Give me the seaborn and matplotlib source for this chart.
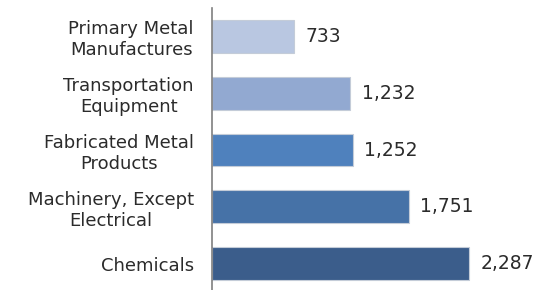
import pandas as pd
import matplotlib.pyplot as plt
import seaborn as sns

categories = ['Primary Metal\nManufactures', 'Transportation\nEquipment',
              'Fabricated Metal\nProducts', 'Machinery, Except\nElectrical', 'Chemicals']
values = [733, 1232, 1252, 1751, 2287]
colors = ['#b9c7e1', '#92a9d1', '#4f81bd', '#4672a7', '#3b5d8b']

df = pd.DataFrame({'category': categories, 'value': values})

sns.set_style('white')
plt.rcParams['font.family'] = ['DejaVu Sans']

fig = plt.figure(figsize=(5.44, 2.9), dpi=100)
ax = fig.add_axes([212 / 544, -2 / 290, 332 / 544, 284 / 290])

sns.barplot(data=df, x='value', y='category', hue='category', palette=colors,
            saturation=1, legend=False, width=0.58, edgecolor='#c4ccd8',
            linewidth=0.8, ax=ax)

for i, v in enumerate(values):
    ax.text(v + 100, i, f'{v:,}', va='center', ha='left', fontsize=13.5,
            color='#2b2b2b', clip_on=False)

ax.set_xlim(0, 2954)
ax.set_ylim(4.5, -0.5)
ax.set_xlabel('')
ax.set_ylabel('')
ax.set_xticks([])
for s in ['top', 'right', 'bottom']:
    ax.spines[s].set_visible(False)
ax.spines['left'].set_color('#7f7f7f')
ax.spines['left'].set_linewidth(1.2)
ax.tick_params(axis='y', length=0, pad=13, labelsize=13, labelcolor='#2b2b2b')
for lab in ax.get_yticklabels():
    lab.set_horizontalalignment('right')
    lab.set_multialignment('center')
    lab.set_linespacing(1.2)

fig.savefig('out.png', dpi=100)
